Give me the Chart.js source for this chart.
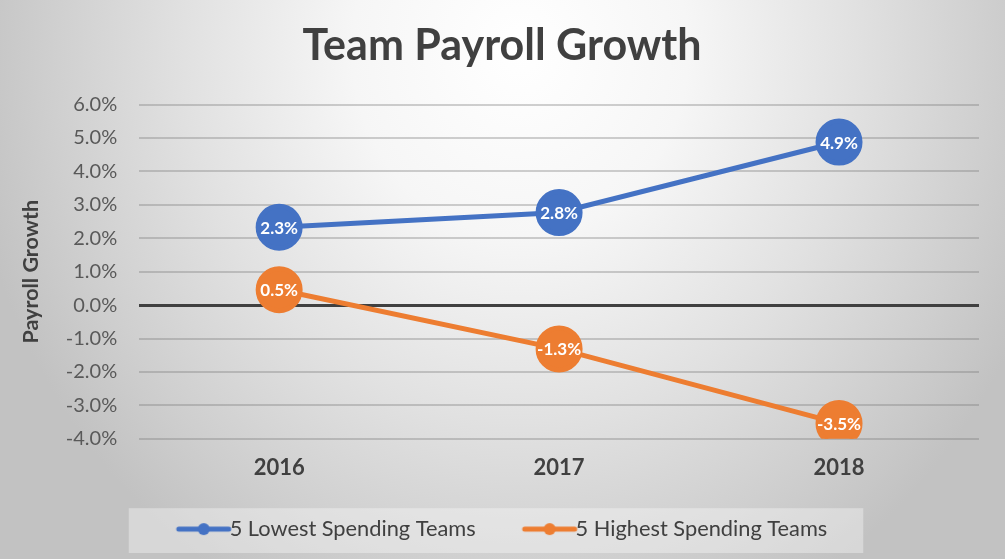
<!DOCTYPE html>
<html>
<head>
<meta charset="utf-8">
<script src="https://cdn.jsdelivr.net/npm/chart.js@4"></script>
<style>
  html, body { margin: 0; padding: 0; background: #fff; }
  #wrap { width: 1005px; height: 559px; position: relative; }
</style>
</head>
<body>
<div id="wrap"><canvas id="myChart" width="1005" height="559"></canvas></div>
<script>
// chart data
var years = ['2016', '2017', '2018'];
var lowestSpending = [2.33, 2.77, 4.88];
var highestSpending = [0.46, -1.31, -3.54];
var seriesNames = ['5 Lowest Spending Teams', '5 Highest Spending Teams'];
var yMin = -4, yMax = 6, yStep = 1;

var BLUE = '#4472c4', ORANGE = '#ed7d31', TEXT = '#404040';
var FONT = 'Lato, "Open Sans", sans-serif';

// legend marker: short line with a dot (drawn right of centre so it sits close to the text)
function legendMarker(color) {
  var c = document.createElement('canvas');
  c.width = 90; c.height = 14;
  var g = c.getContext('2d');
  g.strokeStyle = color; g.lineWidth = 5; g.lineCap = 'round';
  g.beginPath(); g.moveTo(35, 7); g.lineTo(85, 7); g.stroke();
  g.fillStyle = color;
  g.beginPath(); g.arc(60, 7, 6, 0, Math.PI * 2); g.fill();
  return c;
}

// gradient background + legend box
var backdrop = {
  id: 'backdrop',
  afterLayout: function (chart) {
    // centre title on the canvas, nudge legend row
    chart.titleBlock.left += 8; chart.titleBlock.right += 8;
    chart.legend.left -= 1; chart.legend.right -= 1;
  },
  beforeDraw: function (chart) {
    var ctx = chart.ctx, w = chart.width, h = chart.height;
    ctx.save();
    ctx.fillStyle = '#c2c2c2';
    ctx.fillRect(0, 0, w, h);
    // elliptical glow, brightest behind the title
    ctx.save();
    ctx.translate(520, 50);
    ctx.scale(1, 620 / 560);
    var grad = ctx.createRadialGradient(0, 0, 0, 0, 0, 560);
    grad.addColorStop(0, '#ffffff');
    grad.addColorStop(0.3, '#f6f6f6');
    grad.addColorStop(0.6, '#e1e1e1');
    grad.addColorStop(0.85, '#cecece');
    grad.addColorStop(1, '#c2c2c2');
    ctx.fillStyle = grad;
    ctx.fillRect(-600, -100, 1300, 700);
    ctx.restore();

    var boxes = chart.legend.legendHitBoxes;
    if (boxes && boxes.length) {
      var first = boxes[0], last = boxes[boxes.length - 1];
      var x0 = first.left - 30, x1 = last.left + last.width + 36;
      var y0 = first.top - 10, y1 = first.top + first.height + 13;
      ctx.fillStyle = 'rgba(255,255,255,0.35)';
      ctx.fillRect(x0, y0, x1 - x0, y1 - y0);
    }
    ctx.restore();
  }
};

// white value labels inside markers
var valueLabels = {
  id: 'valueLabels',
  afterDatasetsDraw: function (chart) {
    var ctx = chart.ctx;
    ctx.save();
    ctx.font = 'bold 17px ' + FONT;
    ctx.fillStyle = '#ffffff';
    ctx.textAlign = 'center';
    ctx.textBaseline = 'middle';
    chart.data.datasets.forEach(function (ds, i) {
      chart.getDatasetMeta(i).data.forEach(function (pt, j) {
        ctx.fillText(ds.data[j].toFixed(1) + '%', pt.x, pt.y + 1);
      });
    });
    ctx.restore();
  }
};

const config = {
  type: 'line',
  data: {
    labels: years,
    datasets: [
      {
        label: seriesNames[0],
        data: lowestSpending,
        borderColor: BLUE,
        backgroundColor: BLUE,
        borderWidth: 5,
        pointRadius: 21,
        pointHoverRadius: 21,
        pointStyle: 'circle',
        fill: false,
        tension: 0
      },
      {
        label: seriesNames[1],
        data: highestSpending,
        borderColor: ORANGE,
        backgroundColor: ORANGE,
        borderWidth: 5,
        pointRadius: 21,
        pointHoverRadius: 21,
        pointStyle: 'circle',
        fill: false,
        tension: 0
      }
    ]
  },
  options: {
    responsive: false,
    animation: false,
    layout: { padding: { left: 7, right: 24, top: 0, bottom: 9 } },
    plugins: {
      title: {
        display: true,
        text: 'Team Payroll Growth',
        color: TEXT,
        font: { family: FONT, size: 43, weight: 'bold' },
        padding: { top: 20, bottom: 33 }
      },
      legend: {
        position: 'bottom',
        labels: {
          color: TEXT,
          font: { family: FONT, size: 21.8 },
          usePointStyle: true,
          pointStyleWidth: 60,
          padding: 29,
          generateLabels: function (chart) {
            return chart.data.datasets.map(function (ds, i) {
              return {
                text: ds.label,
                fontColor: TEXT,
                pointStyle: legendMarker(ds.borderColor),
                lineWidth: 0,
                strokeStyle: 'transparent',
                fillStyle: 'transparent',
                datasetIndex: i
              };
            });
          }
        }
      },
      tooltip: { enabled: false }
    },
    scales: {
      x: {
        offset: true,
        grid: { display: false },
        border: { display: false },
        ticks: {
          color: TEXT,
          font: { family: FONT, size: 22, weight: 'bold' },
          padding: 8
        }
      },
      y: {
        min: yMin,
        max: yMax,
        border: { display: false },
        grid: {
          color: function (c) { return c.tick.value === 0 ? '#404040' : 'rgba(120,120,120,0.35)'; },
          lineWidth: function (c) { return c.tick.value === 0 ? 3 : 2; },
          drawTicks: false
        },
        ticks: {
          stepSize: yStep,
          color: '#595959',
          font: { family: FONT, size: 20 },
          padding: 22,
          callback: function (v) { return v.toFixed(1) + '%'; }
        },
        title: {
          display: true,
          text: 'Payroll Growth',
          color: TEXT,
          font: { family: FONT, size: 21.5, weight: 'bold' },
          padding: { top: 11, bottom: 0 }
        }
      }
    }
  },
  plugins: [backdrop, valueLabels]
};

const ctx = document.getElementById('myChart').getContext('2d');
const chart = new Chart(ctx, config);
</script>
</body>
</html>
